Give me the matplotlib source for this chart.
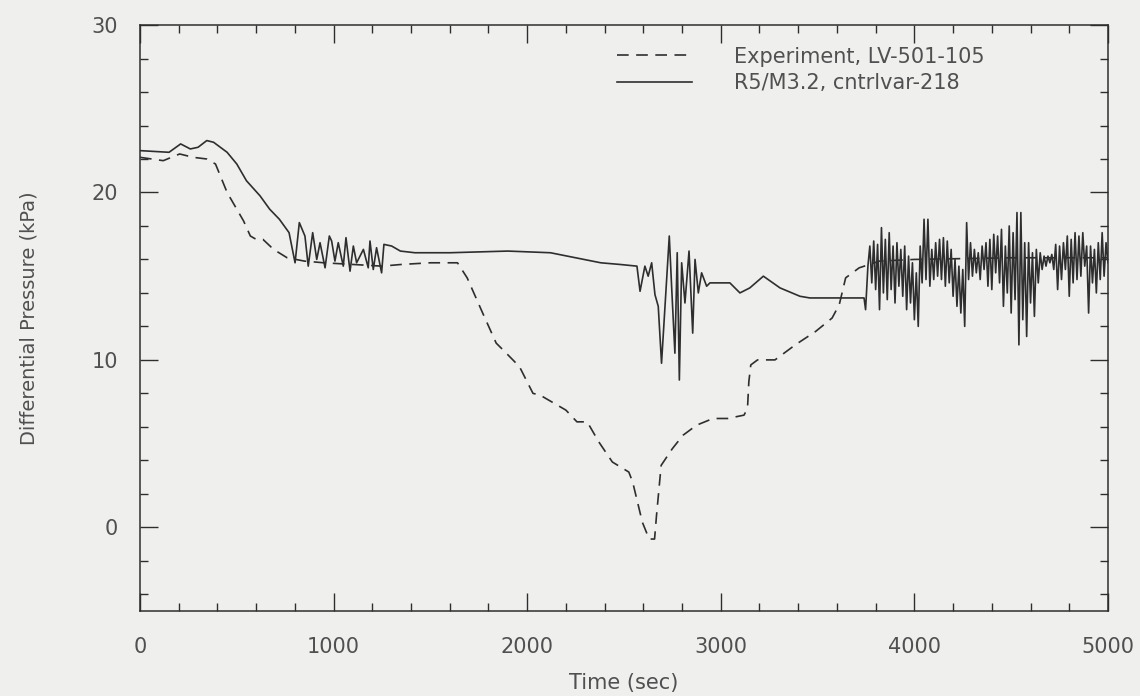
import matplotlib
matplotlib.use("Agg")
import matplotlib.pyplot as plt
import numpy as np
from matplotlib.ticker import MultipleLocator

# ---------------------------------
# DATA
# ---------------------------------
exp_time = [0, 120, 205, 275, 345, 390, 450, 500, 535, 570, 600, 635, 690, 760,
            850, 950, 1100, 1250, 1350, 1500, 1640, 1690, 1770, 1840, 1875, 1960,
            2030, 2066, 2200, 2257, 2310, 2370, 2440, 2525, 2545, 2595, 2630, 2658,
            2668, 2692, 2750, 2805, 2875, 2960, 3035, 3120, 3138, 3145, 3155, 3190,
            3280, 3385, 3490, 3575, 3612, 3645, 3715, 3820, 4000, 4500, 5000]
exp_dp = [22.1, 21.9, 22.3, 22.1, 22.0, 21.7, 20.0, 19.0, 18.3, 17.4, 17.2, 17.2,
          16.6, 16.1, 15.9, 15.8, 15.7, 15.6, 15.7, 15.8, 15.8, 14.9, 12.8, 11.0,
          10.6, 9.6, 8.0, 7.9, 7.0, 6.3, 6.3, 5.1, 3.9, 3.3, 2.7, 0.3, -0.7, -0.7,
          0.7, 3.7, 4.7, 5.5, 6.1, 6.5, 6.5, 6.7, 7.1, 8.7, 9.7, 10.0, 10.0, 10.9,
          11.7, 12.5, 13.3, 14.9, 15.5, 15.9, 16.0, 16.1, 16.1]

# calculation up to the start of the late oscillations
calc_time = [0, 150, 210, 260, 300, 345, 380, 450, 500, 550, 620, 670, 720, 770,
             801, 823, 852, 869, 892, 913, 930, 956, 978, 990, 1007, 1024, 1050,
             1064, 1085, 1102, 1119, 1154, 1179, 1188, 1205, 1222, 1248, 1260,
             1300, 1345, 1420, 1600, 1900, 2120, 2250, 2380, 2480, 2567,
             2583, 2608, 2625, 2643, 2660, 2677, 2694, 2711, 2734, 2746, 2763,
             2775, 2786, 2798, 2815, 2836, 2855, 2867, 2884, 2901, 2927, 2944,
             3047, 3099, 3150, 3220, 3306, 3409, 3460, 3740, 3748]
calc_dp = [22.5, 22.4, 22.9, 22.6, 22.7, 23.1, 23.0, 22.4, 21.7, 20.7, 19.8, 19.0,
           18.4, 17.6,
           15.8, 18.2, 17.4, 15.6, 17.6, 16.0, 17.0, 15.5, 17.4, 17.1, 15.9, 17.0,
           15.6, 17.3, 15.3, 16.8, 15.8, 16.6, 15.5, 17.1, 15.4, 16.7, 15.2, 16.9,
           16.8, 16.5, 16.4, 16.4, 16.5, 16.4, 16.1, 15.8, 15.7, 15.6,
           14.1, 15.6, 15.0, 15.8, 13.9, 13.2, 9.8, 13.0, 17.4, 14.4, 10.4,
           16.4, 8.8, 15.8, 13.4, 16.5, 11.6, 16.0, 14.0, 15.2, 14.4, 14.6,
           14.6, 14.0, 14.3, 15.0, 14.3, 13.8, 13.7, 13.7, 13.0]

# late oscillations, one reading every 10 s from 3760 s
osc_start, osc_step = 3760, 10
osc_dp = [15.6, 16.8, 14.6, 17.1, 14.2, 16.9, 13.0, 17.9, 14.0, 17.2,
          13.6, 17.6, 14.2, 16.8, 13.4, 17.0, 14.4, 16.6, 13.8, 16.8,
          13.0, 16.2, 13.4, 15.8, 12.4, 15.2, 12.0, 16.8, 14.6, 18.4,
          14.8, 18.4, 14.4, 16.6, 14.8, 17.0, 15.0, 17.2, 14.8, 17.3,
          14.4, 17.1, 14.6, 16.6, 13.8, 16.0, 13.2, 15.6, 12.8, 15.4,
          12.0, 18.2, 14.8, 17.0, 15.0, 16.6, 15.2, 16.4, 14.8, 16.8,
          15.4, 17.0, 14.4, 17.2, 14.2, 17.5, 15.2, 17.4, 14.6, 17.8,
          13.2, 16.8, 14.0, 18.0, 12.8, 17.6, 13.6, 18.8, 10.9, 18.8,
          12.4, 17.0, 11.4, 17.0, 13.4, 16.4, 12.6, 16.6, 14.6, 16.4,
          15.4, 16.2, 15.6, 16.2, 15.8, 16.3, 15.4, 16.9, 14.2, 16.8,
          14.8, 17.0, 15.4, 17.4, 13.8, 17.2, 14.6, 17.6, 14.8, 17.4,
          15.0, 17.6, 15.6, 16.8, 12.8, 16.8, 14.6, 16.6, 14.0, 17.0,
          14.8, 17.6, 15.0, 17.0, 15.8]

legend_labels = ["Experiment, LV-501-105", "R5/M3.2, cntrlvar-218"]

osc_time = osc_start + osc_step * np.arange(len(osc_dp))
calc_t = np.concatenate([calc_time, osc_time])
calc_p = np.concatenate([calc_dp, osc_dp])

# ---------------------------------
# STYLE
# ---------------------------------
paper = "#efefee"
ink = "#2e2e2e"
txt = "#505050"
plt.rcParams["font.family"] = ["DejaVu Sans"]

fig = plt.figure(figsize=(11.4, 6.96), dpi=100, facecolor=paper)
ax = fig.add_axes([0.1228, 0.1221, 0.8491, 0.8419], facecolor=paper)

ax.plot(exp_time, exp_dp, color=ink, lw=1.2, linestyle=(0, (7, 4.5)),
        label=legend_labels[0])
ax.plot(calc_t, calc_p, color=ink, lw=1.2, label=legend_labels[1])

ax.set_xlim(0, 5000)
ax.set_ylim(-5, 30)
ax.xaxis.set_major_locator(MultipleLocator(1000))
ax.xaxis.set_minor_locator(MultipleLocator(200))
ax.yaxis.set_major_locator(MultipleLocator(10))
ax.yaxis.set_minor_locator(MultipleLocator(2))

ax.tick_params(which="both", direction="in", top=True, right=True,
               color=ink, width=1.0, labelsize=15, labelcolor=txt)
ax.tick_params(which="major", length=13)
ax.tick_params(which="minor", length=6)
ax.tick_params(axis="x", which="major", pad=19)
ax.tick_params(axis="y", which="major", pad=16)
for s in ax.spines.values():
    s.set_color(ink)
    s.set_linewidth(1.1)

ax.set_xlabel("Time (sec)", fontsize=15, color=txt, labelpad=11)
ax.set_ylabel("Differential Pressure (kPa)", fontsize=14, color=txt, labelpad=38)

ax.legend(loc="upper left", bbox_to_anchor=(0.493, 0.963), frameon=False,
          borderpad=0, borderaxespad=0, fontsize=15, labelcolor=txt,
          handlelength=3.6, handletextpad=2.0, labelspacing=0.3)

fig.savefig("out.png", dpi=100, facecolor=paper)
